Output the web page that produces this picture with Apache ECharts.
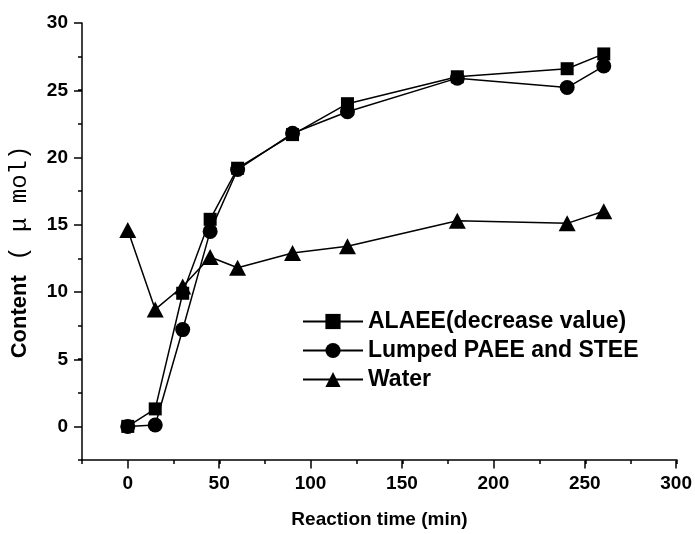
<!DOCTYPE html>
<html>
<head>
<meta charset="utf-8">
<script src="https://cdn.jsdelivr.net/npm/echarts@6/dist/echarts.min.js"></script>
<style>html,body{margin:0;padding:0;background:#fff}#c{width:695px;height:534px}</style>
</head>
<body>
<div id="c"></div>
<script>
var times = [0, 15, 30, 45, 60, 90, 120, 180, 240, 260];
var alaee = [0, 1.3, 9.9, 15.4, 19.2, 21.7, 24.0, 26.0, 26.6, 27.7];
var lumped = [0, 0.1, 7.2, 14.5, 19.1, 21.8, 23.4, 25.9, 25.2, 26.8];
var water = [14.6, 8.7, 10.4, 12.6, 11.8, 12.9, 13.4, 15.3, 15.1, 16.0];
var seriesNames = ['ALAEE(decrease value)', 'Lumped PAEE and STEE', 'Water'];
var xTitle = 'Reaction time (min)';

function pairs(ys) { return times.map(function (t, i) { return [t, ys[i]]; }); }

var FONT = "'Liberation Sans', Arial, sans-serif";
var L = 82, R = 18, T = 23, B = 73.5;
var W = 695 - L - R, H = 534 - T - B;
var sx = W / 325, sy = H / 32.5;

var chart = echarts.init(document.getElementById('c'), null, {renderer: 'canvas'});
var lineStyle = {color: '#000', width: 1.5};
var axisLine = {show: true, onZero: false, lineStyle: {color: '#000', width: 1.5}};
var noLine = {show: false, onZero: false};
var labelStyle = {color: '#000', fontFamily: FONT, fontWeight: 'bold', fontSize: 19};

chart.setOption({
  backgroundColor: '#fff',
  animation: false,
  grid: [
    {left: L, right: R, top: T, bottom: B},
    {left: L + 25 * sx, right: R, top: T, bottom: B},
    {left: L, right: R, top: T, bottom: B + 2.5 * sy}
  ],
  xAxis: [
    {type: 'value', gridIndex: 0, min: -25, max: 300, interval: 25,
     axisLine: axisLine, splitLine: {show: false},
     axisTick: {show: true, length: 4, lineStyle: {color: '#000', width: 1.5}},
     axisLabel: {show: false},
     name: xTitle, nameLocation: 'middle', nameGap: 50,
     nameTextStyle: {color: '#000', fontFamily: FONT, fontWeight: 'bold', fontSize: 19}},
    {type: 'value', gridIndex: 1, min: 0, max: 300, interval: 50,
     axisLine: noLine, splitLine: {show: false},
     axisTick: {show: true, length: 8, lineStyle: {color: '#000', width: 1.5}},
     axisLabel: Object.assign({margin: 14}, labelStyle)},
    {type: 'value', gridIndex: 2, show: false, min: -25, max: 300, axisLine: noLine}
  ],
  yAxis: [
    {type: 'value', gridIndex: 0, min: -2.5, max: 30, interval: 2.5,
     axisLine: axisLine, splitLine: {show: false},
     axisTick: {show: true, length: 4, lineStyle: {color: '#000', width: 1.5}},
     axisLabel: {show: false}},
    {type: 'value', gridIndex: 1, show: false, min: -2.5, max: 30, axisLine: noLine},
    {type: 'value', gridIndex: 2, min: 0, max: 30, interval: 5,
     axisLine: noLine, splitLine: {show: false},
     axisTick: {show: true, length: 8, lineStyle: {color: '#000', width: 1.5}},
     axisLabel: Object.assign({margin: 14}, labelStyle)}
  ],
  legend: {
    orient: 'vertical', left: 297, top: 305,
    itemWidth: 60, itemHeight: 19, itemGap: 6,
    textStyle: {color: '#000', fontFamily: FONT, fontWeight: 'bold', fontSize: 23, lineHeight: 22},
    data: seriesNames
  },
  graphic: [{
    type: 'text', x: 20, y: 252, rotation: Math.PI / 2,
    style: {
      text: '{a|Content}{b| ( μ mol)}',
      align: 'center', verticalAlign: 'middle',
      rich: {
        a: {fontFamily: FONT, fontWeight: 'bold', fontSize: 22, fill: '#000', color: '#000'},
        b: {fontFamily: "'Liberation Mono', 'DejaVu Sans Mono', monospace", fontSize: 24, fill: '#000', color: '#000'}
      }
    }
  }],
  series: [
    {name: seriesNames[0], type: 'line', xAxisIndex: 0, yAxisIndex: 0, data: pairs(alaee),
     symbol: 'rect', symbolSize: 13, lineStyle: lineStyle, itemStyle: {color: '#000'}},
    {name: seriesNames[1], type: 'line', xAxisIndex: 0, yAxisIndex: 0, data: pairs(lumped),
     symbol: 'circle', symbolSize: 15, lineStyle: lineStyle, itemStyle: {color: '#000'}},
    {name: seriesNames[2], type: 'line', xAxisIndex: 0, yAxisIndex: 0, data: pairs(water),
     symbol: 'triangle', symbolSize: [17, 16], lineStyle: lineStyle, itemStyle: {color: '#000'}}
  ]
});
</script>
</body>
</html>
